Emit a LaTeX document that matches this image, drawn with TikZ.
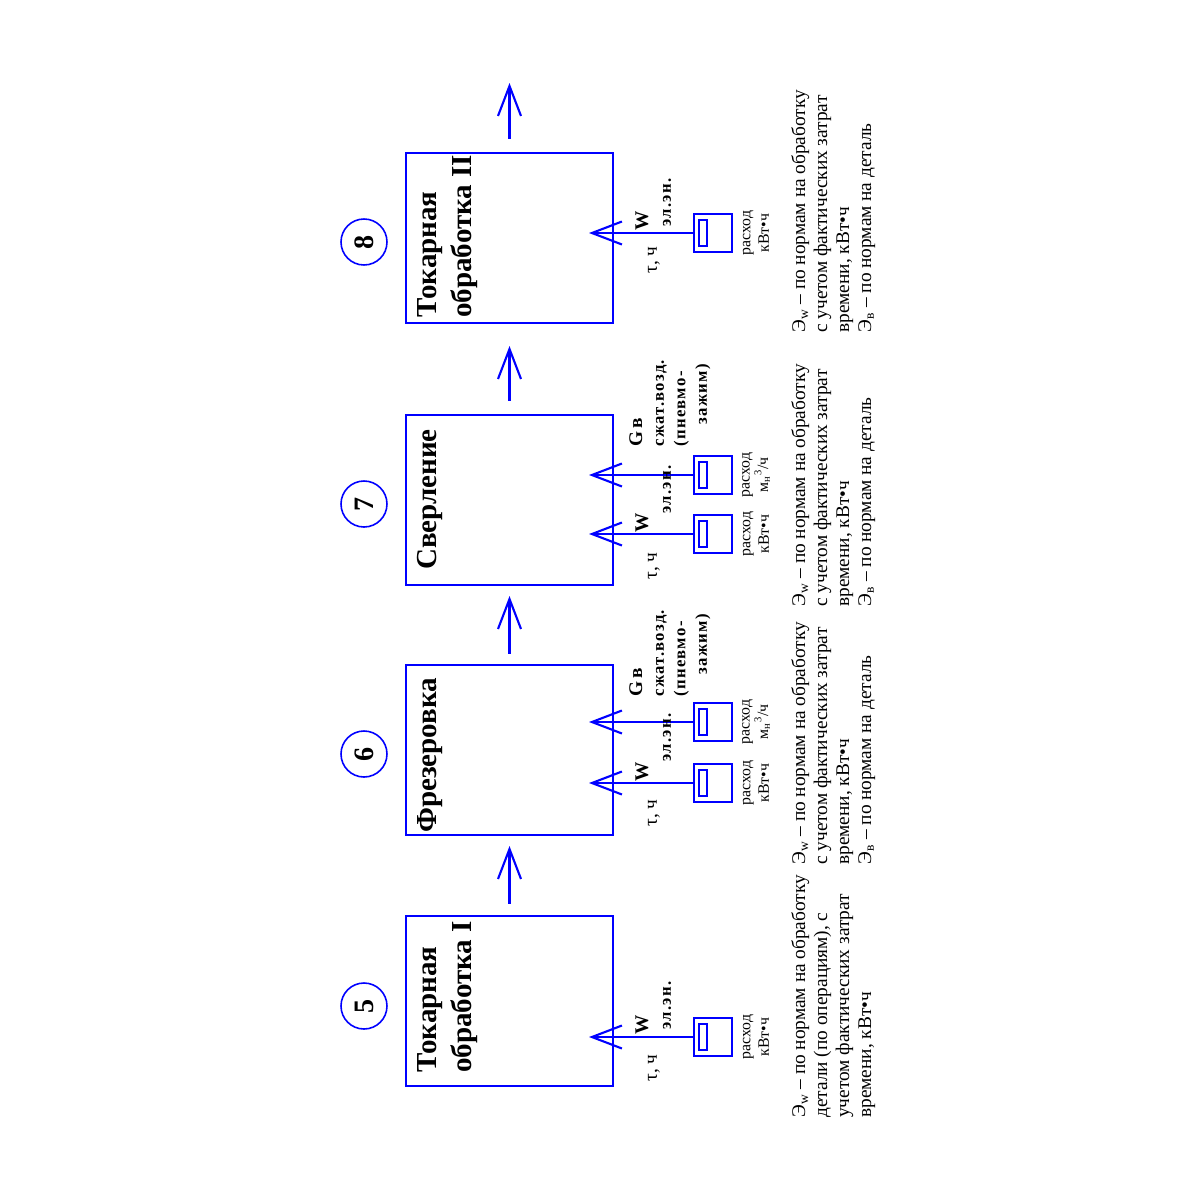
\documentclass[tikz,border=0pt]{standalone}
\usepackage{fontspec}
\setmainfont{Liberation Serif}
\usetikzlibrary{arrows.meta,positioning,calc}

\begin{document}
\begin{tikzpicture}[x=0.02cm, y=-0.02cm,
    stage/.style={rectangle, draw=blue, line width=1.2pt, minimum width=4.14cm, minimum height=3.4cm, inner sep=0pt},
    num/.style={circle, draw=blue, line width=0.9pt, minimum size=0.92cm, inner sep=0pt, rotate=90, font=\fontsize{16}{16}\selectfont\bfseries},
    title/.style={rotate=90, anchor=north west, align=left, inner sep=0pt, font=\fontsize{16.5}{20}\selectfont\bfseries},
    meter/.style={rectangle, draw=blue, line width=1.2pt, minimum width=0.76cm, minimum height=0.76cm, inner sep=0pt},
    dial/.style={rectangle, draw=blue, line width=1.1pt, minimum width=0.16cm, minimum height=0.52cm, inner sep=0pt, anchor=west},
    flow/.style={blue, line width=1.2pt, -{Straight Barb[length=0.6cm, width=0.46cm]}},
    unit/.style={rotate=90, align=center, inner sep=0pt, font=\fontsize{9}{10.5}\selectfont},
    sym/.style={rotate=90, inner sep=0pt, font=\fontsize{11}{12}\selectfont\bfseries},
    kind/.style={rotate=90, anchor=west, inner sep=0pt, font=\fontsize{9.5}{12}\selectfont\bfseries\addfontfeatures{LetterSpace=8}},
    gas/.style={rotate=90, anchor=north west, align=left, inner sep=0pt, font=\fontsize{9.5}{12.3}\selectfont\bfseries\addfontfeatures{LetterSpace=8}},
    time/.style={rotate=90, inner sep=0pt, font=\fontsize{11}{12}\selectfont},
    note/.style={rotate=90, anchor=north west, align=left, inner sep=0pt, font=\fontsize{11}{12.5}\selectfont},
  ]
  \useasboundingbox (0,0) rectangle (1181,1181);

  % operations
  \foreach \i/\y in {5/1001, 6/750, 7/500, 8/238}
    \node[stage] (op\i) at (509.5,\y) {};
  \foreach \i/\y in {5/1006, 6/754, 7/504, 8/242}
    \node[num] (n\i) at (364,\y) {\i};

  \node[title] (t5) at (417,1073) {Токарная\\обработка I};
  \node[title] (t6) at (417,833) {Фрезеровка};
  \node[title] (t7) at (417,570) {Сверление};
  \node[title] (t8) at (417,318) {Токарная\\обработка II};

  % flow between operations
  \foreach \a/\b/\s/\e in {5/6/0.22/0.2, 6/7/0.2/0.2, 7/8/0.26/0.44}
    \draw[flow, shorten <=\s cm, shorten >=\e cm] (op\a) -- (op\b);
  \coordinate (out) at (509.5,83);
  \draw[flow, shorten <=0.26cm] (op8) -- (out);

  % meters
  \foreach \i/\y in {5/1037, 6/783, 6b/722, 7/534, 7b/475, 8/233} {
    \node[meter] (m\i) at (713,\y) {};
    \node[dial] (d\i) at ([xshift=0.1cm]m\i.west) {};
    \coordinate (in\i) at (589,\y);
    \draw[flow] (m\i) -- (in\i);
  }

  % labels of meters
  \node[sym] (w5) at (642,1025) {W};
  \node[sym] (w6) at (642,772) {W};
  \node[sym] (w7) at (642,523) {W};
  \node[sym] (w8) at (642,221) {W};
  \node[kind] (e5) at (667,1030) {эл.эн.};
  \node[kind] (e6) at (667,762) {эл.эн.};
  \node[kind] (e7) at (667,514) {эл.эн.};
  \node[kind] (e8) at (667,227) {эл.эн.};
  \node[time] (h5) at (654,1068) {τ, ч};
  \node[time] (h6) at (654,813) {τ, ч};
  \node[time] (h7) at (654,566) {τ, ч};
  \node[time] (h8) at (654,260) {τ, ч};
  \node[gas] (g6) at (629,697) {{\fontsize{11}{12.3}\selectfont G\,в}\\сжат.возд.\\(пневмо-\\\hspace*{0.44cm}зажим)};
  \node[gas] (g7) at (629,447) {{\fontsize{11}{12.3}\selectfont G\,в}\\сжат.возд.\\(пневмо-\\\hspace*{0.44cm}зажим)};

  \node[unit] (u5) at (756,1037) {расход\\кВт•ч};
  \node[unit] (u6) at (756,783) {расход\\кВт•ч};
  \node[unit] (u6b) at (756,722) {расход\\м\textsubscript{н}\textsuperscript{3}/ч};
  \node[unit] (u7) at (756,534) {расход\\кВт•ч};
  \node[unit] (u7b) at (756,475) {расход\\м\textsubscript{н}\textsuperscript{3}/ч};
  \node[unit] (u8) at (756,233) {расход\\кВт•ч};

  % notes
  \node[note] (c5) at (791,1118) {Э\textsubscript{w} – по нормам на обработку\\детали (по операциям), с\\учетом фактических затрат\\времени, кВт•ч};
  \node[note] (c6) at (791,865) {Э\textsubscript{w} – по нормам на обработку\\с учетом фактических затрат\\времени, кВт•ч\\Э\textsubscript{в} – по нормам на деталь};
  \node[note] (c7) at (791,607) {Э\textsubscript{w} – по нормам на обработку\\с учетом фактических затрат\\времени, кВт•ч\\Э\textsubscript{в} – по нормам на деталь};
  \node[note] (c8) at (791,333) {Э\textsubscript{w} – по нормам на обработку\\с учетом фактических затрат\\времени, кВт•ч\\Э\textsubscript{в} – по нормам на деталь};
\end{tikzpicture}
\end{document}
